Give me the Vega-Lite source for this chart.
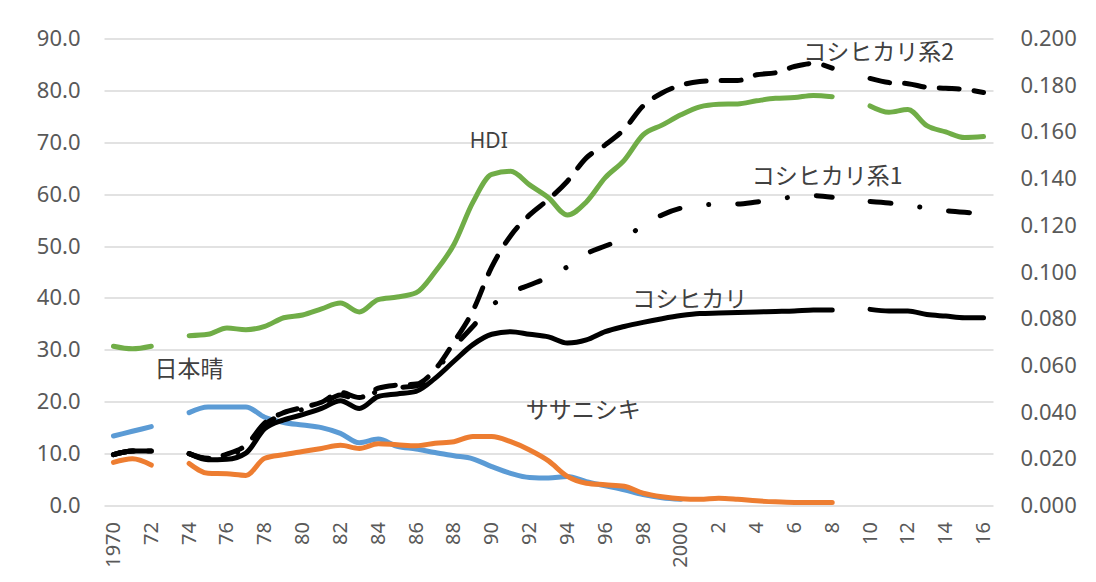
{
  "$schema": "https://vega.github.io/schema/vega-lite/v6.json",
  "width": 889,
  "height": 467,
  "autosize": {"type": "none"},
  "padding": {"left": 104, "top": 38.5, "right": 103, "bottom": 76.5},
  "background": "white",
  "config": {
    "view": {"stroke": null},
    "font": "Noto Sans",
    "axis": {"labelFont": "Noto Sans", "labelColor": "#595959", "ticks": false, "domain": false}
  },
  "data": {
    "values": [
      {"year": 1970, "nipponbare": 13.4, "sasanishiki": 8.3, "koshihikari": 9.8, "koshi1": 9.8, "koshi2": 9.8, "hdi": 0.0682},
      {"year": 1971, "nipponbare": 14.3, "sasanishiki": 9.0, "koshihikari": 10.5, "koshi1": 10.5, "koshi2": 10.5, "hdi": 0.0671},
      {"year": 1972, "nipponbare": 15.2, "sasanishiki": 7.8, "koshihikari": 10.5, "koshi1": 10.5, "koshi2": 10.5, "hdi": 0.0682},
      {"year": 1973, "nipponbare": null, "sasanishiki": null, "koshihikari": null, "koshi1": null, "koshi2": null, "hdi": null},
      {"year": 1974, "nipponbare": 17.9, "sasanishiki": 8.1, "koshihikari": 10.0, "koshi1": 10.0, "koshi2": 10.0, "hdi": 0.0727},
      {"year": 1975, "nipponbare": 19.0, "sasanishiki": 6.2, "koshihikari": 8.8, "koshi1": 9.0, "koshi2": 9.1, "hdi": 0.0733},
      {"year": 1976, "nipponbare": 19.0, "sasanishiki": 6.1, "koshihikari": 8.9, "koshi1": 9.6, "koshi2": 9.9, "hdi": 0.0760},
      {"year": 1977, "nipponbare": 19.0, "sasanishiki": 5.8, "koshihikari": 10.1, "koshi1": 11.2, "koshi2": 11.6, "hdi": 0.0753},
      {"year": 1978, "nipponbare": 17.0, "sasanishiki": 9.1, "koshihikari": 14.8, "koshi1": 15.6, "koshi2": 15.9, "hdi": 0.0767},
      {"year": 1979, "nipponbare": 16.0, "sasanishiki": 9.8, "koshihikari": 16.5, "koshi1": 17.5, "koshi2": 17.9, "hdi": 0.0804},
      {"year": 1980, "nipponbare": 15.5, "sasanishiki": 10.4, "koshihikari": 17.5, "koshi1": 18.5, "koshi2": 18.9, "hdi": 0.0816},
      {"year": 1981, "nipponbare": 15.0, "sasanishiki": 11.0, "koshihikari": 18.7, "koshi1": 19.5, "koshi2": 19.9, "hdi": 0.0842},
      {"year": 1982, "nipponbare": 13.9, "sasanishiki": 11.6, "koshihikari": 20.2, "koshi1": 21.3, "koshi2": 21.8, "hdi": 0.0867},
      {"year": 1983, "nipponbare": 12.1, "sasanishiki": 11.0, "koshihikari": 18.7, "koshi1": 20.3, "koshi2": 20.8, "hdi": 0.0829},
      {"year": 1984, "nipponbare": 12.8, "sasanishiki": 11.9, "koshihikari": 21.0, "koshi1": 22.1, "koshi2": 22.6, "hdi": 0.0882},
      {"year": 1985, "nipponbare": 11.4, "sasanishiki": 11.7, "koshihikari": 21.5, "koshi1": 22.7, "koshi2": 23.2, "hdi": 0.0893},
      {"year": 1986, "nipponbare": 10.9, "sasanishiki": 11.5, "koshihikari": 22.0, "koshi1": 23.0, "koshi2": 23.4, "hdi": 0.0911},
      {"year": 1987, "nipponbare": 10.2, "sasanishiki": 12.0, "koshihikari": 24.5, "koshi1": 25.8, "koshi2": 26.2, "hdi": 0.1000},
      {"year": 1988, "nipponbare": 9.6, "sasanishiki": 12.3, "koshihikari": 27.8, "koshi1": 30.5, "koshi2": 31.5, "hdi": 0.1118},
      {"year": 1989, "nipponbare": 9.0, "sasanishiki": 13.3, "koshihikari": 31.0, "koshi1": 34.5, "koshi2": 37.5, "hdi": 0.1298},
      {"year": 1990, "nipponbare": 7.5, "sasanishiki": 13.3, "koshihikari": 33.0, "koshi1": 38.5, "koshi2": 46.0, "hdi": 0.1418},
      {"year": 1991, "nipponbare": 6.2, "sasanishiki": 12.3, "koshihikari": 33.5, "koshi1": 41.0, "koshi2": 52.0, "hdi": 0.1431},
      {"year": 1992, "nipponbare": 5.4, "sasanishiki": 10.7, "koshihikari": 33.0, "koshi1": 42.5, "koshi2": 56.0, "hdi": 0.1373},
      {"year": 1993, "nipponbare": 5.3, "sasanishiki": 8.6, "koshihikari": 32.5, "koshi1": 44.0, "koshi2": 59.0, "hdi": 0.1318},
      {"year": 1994, "nipponbare": 5.6, "sasanishiki": 5.6, "koshihikari": 31.3, "koshi1": 46.0, "koshi2": 62.5, "hdi": 0.1244},
      {"year": 1995, "nipponbare": 4.6, "sasanishiki": 4.3, "koshihikari": 31.9, "koshi1": 48.5, "koshi2": 67.0, "hdi": 0.1300},
      {"year": 1996, "nipponbare": 3.8, "sasanishiki": 4.0, "koshihikari": 33.5, "koshi1": 50.0, "koshi2": 69.5, "hdi": 0.1404},
      {"year": 1997, "nipponbare": 3.0, "sasanishiki": 3.7, "koshihikari": 34.5, "koshi1": 51.5, "koshi2": 72.5, "hdi": 0.1478},
      {"year": 1998, "nipponbare": 2.1, "sasanishiki": 2.4, "koshihikari": 35.3, "koshi1": 54.0, "koshi2": 77.0, "hdi": 0.1587},
      {"year": 1999, "nipponbare": 1.5, "sasanishiki": 1.7, "koshihikari": 36.0, "koshi1": 56.0, "koshi2": 79.5, "hdi": 0.1629},
      {"year": 2000, "nipponbare": 1.2, "sasanishiki": 1.3, "koshihikari": 36.6, "koshi1": 57.3, "koshi2": 81.0, "hdi": 0.1673},
      {"year": 2001, "nipponbare": null, "sasanishiki": 1.2, "koshihikari": 37.0, "koshi1": 57.8, "koshi2": 81.7, "hdi": 0.1707},
      {"year": 2002, "nipponbare": null, "sasanishiki": 1.4, "koshihikari": 37.1, "koshi1": 58.1, "koshi2": 81.9, "hdi": 0.1718},
      {"year": 2003, "nipponbare": null, "sasanishiki": 1.2, "koshihikari": 37.2, "koshi1": 58.1, "koshi2": 81.9, "hdi": 0.1720},
      {"year": 2004, "nipponbare": null, "sasanishiki": 0.9, "koshihikari": 37.3, "koshi1": 58.5, "koshi2": 83.0, "hdi": 0.1733},
      {"year": 2005, "nipponbare": null, "sasanishiki": 0.7, "koshihikari": 37.4, "koshi1": 59.0, "koshi2": 83.4, "hdi": 0.1744},
      {"year": 2006, "nipponbare": null, "sasanishiki": 0.6, "koshihikari": 37.5, "koshi1": 59.5, "koshi2": 84.6, "hdi": 0.1747},
      {"year": 2007, "nipponbare": null, "sasanishiki": 0.6, "koshihikari": 37.7, "koshi1": 59.7, "koshi2": 85.2, "hdi": 0.1756},
      {"year": 2008, "nipponbare": null, "sasanishiki": 0.6, "koshihikari": 37.7, "koshi1": 59.4, "koshi2": 84.3, "hdi": 0.1751},
      {"year": 2009, "nipponbare": null, "sasanishiki": null, "koshihikari": null, "koshi1": null, "koshi2": null, "hdi": null},
      {"year": 2010, "nipponbare": null, "sasanishiki": null, "koshihikari": 37.8, "koshi1": 58.6, "koshi2": 82.3, "hdi": 0.1711},
      {"year": 2011, "nipponbare": null, "sasanishiki": null, "koshihikari": 37.5, "koshi1": 58.3, "koshi2": 81.5, "hdi": 0.1684},
      {"year": 2012, "nipponbare": null, "sasanishiki": null, "koshihikari": 37.5, "koshi1": 57.9, "koshi2": 81.3, "hdi": 0.1696},
      {"year": 2013, "nipponbare": null, "sasanishiki": null, "koshihikari": 36.8, "koshi1": 57.3, "koshi2": 80.6, "hdi": 0.1627},
      {"year": 2014, "nipponbare": null, "sasanishiki": null, "koshihikari": 36.5, "koshi1": 56.8, "koshi2": 80.4, "hdi": 0.1600},
      {"year": 2015, "nipponbare": null, "sasanishiki": null, "koshihikari": 36.2, "koshi1": 56.5, "koshi2": 80.2, "hdi": 0.1576},
      {"year": 2016, "nipponbare": null, "sasanishiki": null, "koshihikari": 36.2, "koshi1": 56.3, "koshi2": 79.6, "hdi": 0.1580}
    ]
  },
  "encoding": {
    "x": {
      "field": "year",
      "type": "quantitative",
      "title": null,
      "scale": {"domain": [1969.5, 2016.5], "nice": false, "zero": false},
      "axis": {
        "values": [1970, 1972, 1974, 1976, 1978, 1980, 1982, 1984, 1986, 1988, 1990, 1992, 1994, 1996, 1998, 2000, 2002, 2004, 2006, 2008, 2010, 2012, 2014, 2016],
        "labelExpr": "(datum.value == 1970 || datum.value == 2000) ? ('' + datum.value) : ('' + (datum.value % 100))",
        "labelAngle": -90,
        "labelFontSize": 20,
        "labelPadding": 16,
        "labelFlush": false,
        "labelOverlap": false,
        "grid": false
      }
    }
  },
  "layer": [
    {
      "encoding": {
        "y": {
          "type": "quantitative",
          "title": null,
          "scale": {"domain": [0, 90], "nice": false, "zero": true},
          "axis": {
            "orient": "left",
            "values": [0, 10, 20, 30, 40, 50, 60, 70, 80, 90],
            "format": ".1f",
            "labelFontSize": 22,
            "labelPadding": 24,
            "grid": true,
            "gridColor": "#D9D9D9",
            "gridWidth": 1.5
          }
        }
      },
      "layer": [
        {
          "mark": {"type": "line", "color": "#5B9BD5", "strokeWidth": 5, "strokeCap": "round", "strokeJoin": "round", "interpolate": "monotone", "invalid": "break-paths-show-domains"},
          "encoding": {"y": {"field": "nipponbare", "type": "quantitative", "title": null}}
        },
        {
          "mark": {"type": "line", "color": "#ED7D31", "strokeWidth": 5, "strokeCap": "round", "strokeJoin": "round", "interpolate": "monotone", "invalid": "break-paths-show-domains"},
          "encoding": {"y": {"field": "sasanishiki", "type": "quantitative", "title": null}}
        },
        {
          "mark": {"type": "line", "color": "#000000", "strokeWidth": 5, "strokeCap": "round", "strokeJoin": "round", "interpolate": "monotone", "invalid": "break-paths-show-domains"},
          "encoding": {"y": {"field": "koshihikari", "type": "quantitative", "title": null}}
        },
        {
          "mark": {"type": "line", "color": "#000000", "strokeWidth": 5, "strokeCap": "round", "strokeJoin": "round", "strokeDash": [21, 29, 0.1, 29], "interpolate": "monotone", "invalid": "break-paths-show-domains"},
          "encoding": {"y": {"field": "koshi1", "type": "quantitative", "title": null}}
        },
        {
          "mark": {"type": "line", "color": "#000000", "strokeWidth": 5, "strokeCap": "round", "strokeJoin": "round", "strokeDash": [20, 15], "interpolate": "monotone", "invalid": "break-paths-show-domains"},
          "encoding": {"y": {"field": "koshi2", "type": "quantitative", "title": null}}
        },
        {
          "transform": [{"filter": "datum.year == 1974"}],
          "mark": {"type": "text", "text": "日本晴", "align": "center", "baseline": "middle", "dx": 0, "dy": -43, "font": "Noto Sans CJK JP", "fontSize": 23, "color": "#404040"},
          "encoding": {"y": {"field": "nipponbare", "type": "quantitative", "title": null}}
        },
        {
          "transform": [{"filter": "datum.year == 1990"}],
          "mark": {"type": "text", "text": "ササニシキ", "align": "left", "baseline": "middle", "dx": 34, "dy": -25, "font": "Noto Sans CJK JP", "fontSize": 23, "color": "#404040"},
          "encoding": {"y": {"field": "sasanishiki", "type": "quantitative", "title": null}}
        },
        {
          "transform": [{"filter": "datum.year == 1997"}],
          "mark": {"type": "text", "text": "コシヒカリ", "align": "left", "baseline": "middle", "dx": 8, "dy": -26, "font": "Noto Sans CJK JP", "fontSize": 23, "color": "#404040"},
          "encoding": {"y": {"field": "koshihikari", "type": "quantitative", "title": null}}
        },
        {
          "transform": [{"filter": "datum.year == 2003"}],
          "mark": {"type": "text", "text": "コシヒカリ系1", "align": "left", "baseline": "middle", "dx": 14, "dy": -27, "font": "Noto Sans CJK JP", "fontSize": 23, "color": "#404040"},
          "encoding": {"y": {"field": "koshi1", "type": "quantitative", "title": null}}
        },
        {
          "transform": [{"filter": "datum.year == 2007"}],
          "mark": {"type": "text", "text": "コシヒカリ系2", "align": "left", "baseline": "middle", "dx": -10, "dy": -10, "font": "Noto Sans CJK JP", "fontSize": 23, "color": "#404040"},
          "encoding": {"y": {"field": "koshi2", "type": "quantitative", "title": null}}
        }
      ]
    },
    {
      "encoding": {
        "y": {
          "type": "quantitative",
          "title": null,
          "scale": {"domain": [0, 0.2], "nice": false, "zero": true},
          "axis": {
            "orient": "right",
            "values": [0, 0.02, 0.04, 0.06, 0.08, 0.1, 0.12, 0.14, 0.16, 0.18, 0.2],
            "format": ".3f",
            "labelFontSize": 22,
            "labelPadding": 27,
            "grid": false
          }
        }
      },
      "layer": [
        {
          "mark": {"type": "line", "color": "#70AD47", "strokeWidth": 5, "strokeCap": "round", "strokeJoin": "round", "interpolate": "monotone", "invalid": "break-paths-show-domains"},
          "encoding": {"y": {"field": "hdi", "type": "quantitative", "title": null}}
        },
        {
          "transform": [{"filter": "datum.year == 1990"}],
          "mark": {"type": "text", "text": "HDI", "align": "center", "baseline": "middle", "dx": -3, "dy": -32, "font": "Noto Sans", "fontSize": 21, "color": "#404040"},
          "encoding": {"y": {"field": "hdi", "type": "quantitative", "title": null}}
        }
      ]
    }
  ],
  "resolve": {"scale": {"y": "independent"}}
}
